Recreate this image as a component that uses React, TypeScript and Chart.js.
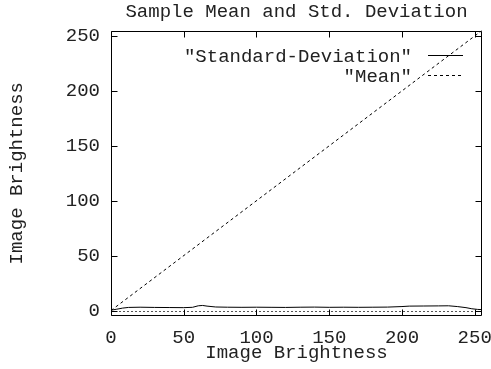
import React, { useEffect, useRef } from "react";
import { Chart, registerables } from "chart.js";

Chart.register(...registerables);

const titleText = "Sample Mean and Std. Deviation";
const xTitle = "Image Brightness";
const yTitle = "Image Brightness";
const seriesLabels = ['"Standard-Deviation"', '"Mean"'];

const xTicks = [0, 50, 100, 150, 200, 250];
const yTicks = [0, 50, 100, 150, 200, 250];

const stdX = [0, 4, 8, 12, 20, 30, 40, 50, 56, 60, 63, 66, 72, 80, 90, 100, 110, 120, 130, 140, 150, 160, 170, 180, 190, 200, 205, 215, 225, 232, 238, 244, 248, 252, 255];
const stdY = [0.3, 1.2, 2.2, 2.8, 3.0, 2.8, 2.7, 2.6, 2.9, 4.3, 4.6, 4.0, 3.2, 3.0, 2.9, 3.0, 2.9, 2.8, 3.0, 3.1, 2.9, 3.0, 2.9, 3.0, 3.1, 3.6, 4.0, 4.1, 4.2, 4.3, 3.6, 2.6, 1.6, 1.0, 0.8];

const meanX = [0, 255];
const meanY = [0, 255];

const FONT = "'Liberation Mono', 'Courier New', monospace";
const FONT_SIZE = 19;
const TEXT_COLOR = "#222";

const gnuplotPlugin = {
  id: "gnuplotFrame",
  beforeDatasetsDraw(chart: any) {
    const { ctx, chartArea: a, scales } = chart;
    const y0 = Math.round(scales.y.getPixelForValue(0)) + 0.5;
    ctx.save();
    ctx.strokeStyle = "#555";
    ctx.lineWidth = 1;
    ctx.setLineDash([2, 2]);
    ctx.beginPath();
    ctx.moveTo(a.left, y0);
    ctx.lineTo(a.right, y0);
    ctx.stroke();
    ctx.restore();
  },
  afterDatasetsDraw(chart: any) {
    const { ctx, chartArea: a, scales } = chart;
    const L = Math.round(a.left) + 0.5;
    const R = Math.round(a.right) - 0.5;
    const T = Math.round(a.top) + 0.5;
    const B = Math.round(a.bottom) - 0.5;
    const tl = 6;
    ctx.save();
    ctx.strokeStyle = "#000";
    ctx.lineWidth = 1;
    ctx.setLineDash([]);
    ctx.beginPath();
    ctx.rect(L, T, R - L, B - T);
    scales.x.ticks.forEach((t: any) => {
      const px = Math.round(scales.x.getPixelForValue(t.value)) + 0.5;
      ctx.moveTo(px, B);
      ctx.lineTo(px, B - tl);
      ctx.moveTo(px, T);
      ctx.lineTo(px, T + tl);
    });
    scales.y.ticks.forEach((t: any) => {
      const py = Math.round(scales.y.getPixelForValue(t.value)) + 0.5;
      ctx.moveTo(L, py);
      ctx.lineTo(L + tl, py);
      ctx.moveTo(R, py);
      ctx.lineTo(R - tl, py);
    });
    ctx.stroke();

    // legend (gnuplot style: text right-aligned, sample line to the right)
    ctx.font = `${FONT_SIZE}px ${FONT}`;
    ctx.textAlign = "right";
    ctx.textBaseline = "middle";
    chart.data.datasets.forEach((ds: any, i: number) => {
      const yy = Math.round(a.top + 24.5 + i * 20) + 0.5;
      ctx.fillStyle = TEXT_COLOR;
      ctx.fillText(ds.label, a.right - 70, yy + 1);
      ctx.strokeStyle = ds.borderColor;
      ctx.lineWidth = ds.borderWidth;
      ctx.setLineDash(ds.borderDash || []);
      ctx.beginPath();
      ctx.moveTo(a.right - 54, yy);
      ctx.lineTo(a.right - 19, yy);
      ctx.stroke();
    });
    ctx.restore();
  },
};

function zeroPadding(s: any) {
  s.paddingLeft = 0;
  s.paddingRight = 0;
  s.paddingTop = 0;
  s.paddingBottom = 0;
}

export default function App() {
  const ref = useRef<HTMLCanvasElement | null>(null);

  useEffect(() => {
    if (!ref.current) return;
    const font = { family: FONT, size: FONT_SIZE, weight: "normal" as const };
    const chart = new Chart(ref.current, {
      type: "scatter",
      data: {
        datasets: [
          {
            label: seriesLabels[0],
            data: stdX.map((x, i) => ({ x, y: stdY[i] })),
            showLine: true,
            borderColor: "#000",
            backgroundColor: "#000",
            borderWidth: 1,
            pointRadius: 0,
            tension: 0,
          },
          {
            label: seriesLabels[1],
            data: meanX.map((x, i) => ({ x, y: meanY[i] })),
            showLine: true,
            borderColor: "#000",
            backgroundColor: "#000",
            borderWidth: 1,
            borderDash: [3, 3],
            pointRadius: 0,
            tension: 0,
          },
        ],
      },
      options: {
        animation: false,
        responsive: false,
        layout: { padding: { left: 0, right: 9, top: 0, bottom: 0 } },
        plugins: {
          legend: { display: false },
          tooltip: { enabled: false },
          title: {
            display: true,
            text: titleText,
            fullSize: false,
            color: TEXT_COLOR,
            font,
            padding: { top: 0.6, bottom: 7.1 },
          },
        },
        scales: {
          x: {
            type: "linear",
            min: 0,
            max: 255,
            afterBuildTicks: (s: any) => {
              s.ticks = xTicks.map((v) => ({ value: v }));
            },
            afterFit: (s: any) => {
              s.height = 53;
              zeroPadding(s);
            },
            grid: { display: false, drawTicks: false },
            border: { display: false },
            ticks: { padding: 11, font, color: TEXT_COLOR, maxRotation: 0, autoSkip: false },
            title: { display: true, text: xTitle, font, color: TEXT_COLOR, padding: { top: 5, bottom: 4.9 } },
          },
          y: {
            type: "linear",
            min: -5,
            max: 255,
            afterBuildTicks: (s: any) => {
              s.ticks = yTicks.map((v) => ({ value: v }));
            },
            afterFit: (s: any) => {
              s.width = 111;
              zeroPadding(s);
            },
            grid: { display: false, drawTicks: false },
            border: { display: false },
            ticks: { padding: 11, font, color: TEXT_COLOR, autoSkip: false },
            title: { display: true, text: yTitle, font, color: TEXT_COLOR, padding: { top: 5.6, bottom: 5 } },
          },
        },
      },
      plugins: [gnuplotPlugin],
    });
    return () => chart.destroy();
  }, []);

  return (
    <div style={{ position: "absolute", left: 0, top: 0, width: 491, height: 369, background: "#fff" }}>
      <canvas ref={ref} width={491} height={369} style={{ display: "block" }} />
    </div>
  );
}
